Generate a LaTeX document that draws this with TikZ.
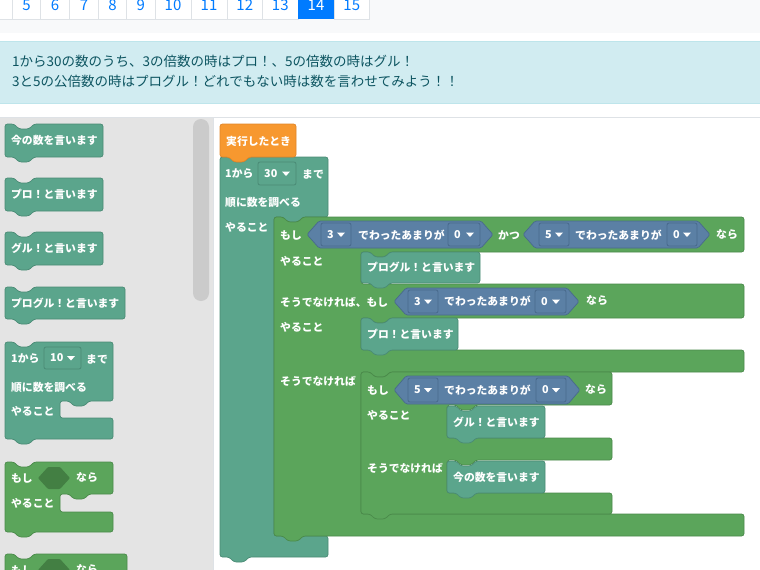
\documentclass[tikz,border=0pt]{standalone}
\usepackage{fontspec}
\newfontfamily\jp{Noto Sans CJK JP}
\definecolor{tealc}{HTML}{5BA58C}
\definecolor{tealdk}{HTML}{4A8B75}
\definecolor{greenc}{HTML}{5BA55B}
\definecolor{greendk}{HTML}{4A8A4A}
\definecolor{bluec}{HTML}{5B80A5}
\definecolor{bluedk}{HTML}{486A8C}
\definecolor{orangec}{HTML}{F7982F}
\definecolor{orangedk}{HTML}{E0862A}
\definecolor{darkhex}{HTML}{437F43}
\definecolor{flybg}{HTML}{E4E4E4}
\definecolor{scrollc}{HTML}{CBCBCB}
\definecolor{bandc}{HTML}{F8F9FA}
\definecolor{cellbd}{HTML}{DEE2E6}
\definecolor{linkc}{HTML}{007BFF}
\definecolor{alertbg}{HTML}{D1ECF1}
\definecolor{alertbd}{HTML}{BEE5EB}
\definecolor{alerttx}{HTML}{0C5460}
\tikzset{
  bt/.style={font=\jp\bfseries\fontsize{10.8pt}{13pt}\selectfont, text=white, inner sep=0pt, anchor=west},
  alerttxt/.style={font=\jp\fontsize{13.5pt}{16pt}\selectfont, text=alerttx, inner sep=0pt, anchor=west},
  pgtxt/.style={font=\jp\fontsize{15pt}{18pt}\selectfont, text=linkc, inner sep=0pt, anchor=base},
  tealblk/.style={fill=tealc, draw=tealdk, line width=0.7pt, rounded corners=2.5pt},
  greenblk/.style={fill=greenc, draw=greendk, line width=0.7pt, rounded corners=2.5pt},
  orangeblk/.style={fill=orangec, draw=orangedk, line width=0.7pt, rounded corners=2.5pt},
  blueblk/.style={fill=bluec, draw=bluedk, line width=0.7pt, rounded corners=1.5pt},
  hexdark/.style={fill=darkhex, rounded corners=1pt},
  tealdd/.style={fill=tealc, draw=tealdk, line width=0.8pt, rounded corners=2pt},
  bluedd/.style={fill=bluec, draw=bluedk, line width=0.8pt, rounded corners=2pt},
}
% statement block: x, y, w, h, name, text
\newcommand\stmtblk[6]{%
  \path[tealblk] (#1,#2) -- ++(9,0) -- ++(5,5) -- ++(10,0) -- ++(5,-5) -- (#1+#3,#2) -- (#1+#3,#2+#4) -- (#1+29,#2+#4) -- ++(-5,5) -- ++(-10,0) -- ++(-5,-5) -- (#1,#2+#4) -- cycle;
  \node[bt] (#5) at (#1+6,{#2+#4/2}) {#6};}
% dropdown field: style, x1, x2, y1, y2, name, label
\newcommand\ddf[7]{%
  \path[#1] (#2,#4) rectangle (#3,#5);
  \node[bt] (#6) at (#2+6,{(#4+#5)/2}) {#7};
  \fill[white] (#3-14,{(#4+#5)/2-2}) -- ++(8,0) -- ++(-4,4.5) -- cycle;}
% hexagon: style, xl, xr, yt, yb, slope
\newcommand\hexb[6]{%
  \path[#1] (#2,{(#4+#5)/2}) -- (#2+#6,#4) -- (#3-#6,#4) -- (#3,{(#4+#5)/2}) -- (#3-#6,#5) -- (#2+#6,#5) -- cycle;}
\begin{document}
\begin{tikzpicture}[x=1pt,y=-1pt]
\useasboundingbox (0,0) rectangle (760,570);
\fill[white] (0,0) rectangle (760,570);
% ---------- pagination ----------
\fill[bandc] (0,0) rectangle (760,33);
\foreach \a/\b/\t/\c in {-20/12.5/4/-4.5,12.5/40.5/5/26.5,40.5/69.5/6/55,69.5/98.5/7/84,98.5/126.5/8/112.5,126.5/155/9/140.75,155/191/10/173,191/227/11/209,227/262.5/12/244.75,262.5/298/13/280.25,334/369.5/15/351.75} {
  \path[draw=cellbd, fill=white, line width=0.8pt] (\a,-10) rectangle (\b,19);
  \node[pgtxt] (pg\t) at (\c,10) {\t};
}
\path[fill=linkc] (298,-10) rectangle (334,19);
\node[pgtxt, text=white] (pg14) at (316,10) {14};
% ---------- alert ----------
\path[fill=alertbg, draw=alertbd, line width=0.8pt] (-2,41) rectangle (762,103);
\node[alerttxt] (al1) at (12,61.5) {1から30の数のうち、3の倍数の時はプロ！、5の倍数の時はグル！};
\node[alerttxt] (al2) at (12,81.5) {3と5の公倍数の時はプログル！どれでもない時は数を言わせてみよう！！};
\draw[cellbd, line width=0.8pt] (0,117.5) -- (760,117.5);
% ---------- flyout ----------
\fill[flybg] (0,118) rectangle (213,570);
\draw[cellbd, line width=0.8pt] (213.5,118) -- (213.5,570);
\fill[scrollc, rounded corners=8pt] (193,119) rectangle (209,301);
\stmtblk{5}{124}{98}{33}{f1}{今の数を言います}
\stmtblk{5}{178}{98}{33}{f2}{プロ！と言います}
\stmtblk{5}{232}{98}{33}{f3}{グル！と言います}
\stmtblk{5}{287}{120}{32}{f4}{プログル！と言います}
% flyout loop
\path[tealblk] (5,342) -- ++(9,0) -- ++(5,5) -- ++(10,0) -- ++(5,-5) -- (113,342) -- (113,401) -- (89,401) -- ++(-5,5) -- ++(-10,0) -- ++(-5,-5) -- (60,401) -- (60,418) -- (113,418) -- (113,439) -- (34,439) -- ++(-5,5) -- ++(-10,0) -- ++(-5,-5) -- (5,439) -- cycle;
\node[bt] (fl1) at (11,359) {1から};
\ddf{tealdd}{44}{81}{347}{369}{fld}{10}
\node[bt] (fl2) at (86,359) {まで};
\node[bt] (fl3) at (11,387) {順に数を調べる};
\node[bt] (fl4) at (11,411) {やること};
% flyout if
\path[greenblk] (5,462) -- ++(9,0) -- ++(5,5) -- ++(10,0) -- ++(5,-5) -- (113,462) -- (113,494) -- (89,494) -- ++(-5,5) -- ++(-10,0) -- ++(-5,-5) -- (60,494) -- (60,512) -- (113,512) -- (113,532) -- (34,532) -- ++(-5,5) -- ++(-10,0) -- ++(-5,-5) -- (5,532) -- cycle;
\node[bt] (fi1) at (11,478) {もし};
\hexb{hexdark}{38}{70}{467}{489}{10}
\node[bt] (fi2) at (76,478) {なら};
\node[bt] (fi3) at (11,503) {やること};
% flyout if-else (cut)
\path[greenblk] (5,554) -- ++(9,0) -- ++(5,5) -- ++(10,0) -- ++(5,-5) -- (127,554) -- (127,600) -- (5,600) -- cycle;
\hexb{hexdark}{38}{70}{559}{581}{10}
\node[bt] (fe1) at (11,570) {もし};
\node[bt] (fe2) at (76,570) {なら};
% ---------- workspace ----------
% loop
\path[tealblk] (220,157) -- ++(9,0) -- ++(5,5) -- ++(10,0) -- ++(5,-5) -- (328,157) -- (328,217) -- (303,217) -- ++(-5,5) -- ++(-10,0) -- ++(-5,-5) -- (274,217) -- (274,536) -- (328,536) -- (328,557) -- (249,557) -- ++(-5,5) -- ++(-10,0) -- ++(-5,-5) -- (220,557) -- cycle;
% hat
\path[orangeblk] (220,124) -- (296,124) -- (296,157) -- (249,157) -- ++(-5,5) -- ++(-10,0) -- ++(-5,-5) -- (220,157) -- cycle;
\node[bt] (hat) at (226,141) {実行したとき};
\node[bt] (w1) at (225,174) {1から};
\ddf{tealdd}{258}{296}{162}{185}{d30}{30}
\node[bt] (w2) at (302,174) {まで};
\node[bt] (w3) at (225,202) {順に数を調べる};
\node[bt] (w4) at (225,227) {やること};
% outer if
\path[greenblk] (274,217) -- ++(9,0) -- ++(5,5) -- ++(10,0) -- ++(5,-5) -- (744,217) -- (744,252) -- (390,252) -- ++(-5,5) -- ++(-10,0) -- ++(-5,-5) -- (361,252) -- (361,284) -- (744,284) -- (744,318) -- (390,318) -- ++(-5,5) -- ++(-10,0) -- ++(-5,-5) -- (361,318) -- (361,350) -- (744,350) -- (744,372) -- (390,372) -- ++(-5,5) -- ++(-10,0) -- ++(-5,-5) -- (361,372) -- (361,514) -- (744,514) -- (744,536) -- (303,536) -- ++(-5,5) -- ++(-10,0) -- ++(-5,-5) -- (274,536) -- cycle;
\node[bt] (i1) at (280,235) {もし};
\hexb{blueblk}{307}{493}{221}{248}{12}
\ddf{bluedd}{321}{351}{223}{246}{d3a}{3}
\node[bt] (i2) at (358,235) {でわったあまりが};
\ddf{bluedd}{448}{480}{223}{246}{d0a}{0}
\node[bt] (i3) at (498,235) {かつ};
\hexb{blueblk}{523}{710}{221}{248}{12}
\ddf{bluedd}{539}{569}{223}{246}{d5a}{5}
\node[bt] (i4) at (575,235) {でわったあまりが};
\ddf{bluedd}{667}{697}{223}{246}{d0b}{0}
\node[bt] (i5) at (716,235) {なら};
\node[bt] (i6) at (280,261) {やること};
\stmtblk{361}{252}{119}{31}{s1}{プログル！と言います}
\node[bt] (i7) at (280,302) {そうでなければ、もし};
\hexb{blueblk}{394}{579}{288}{315}{12}
\ddf{bluedd}{408}{438}{290}{313}{d3b}{3}
\node[bt] (i8) at (444,301) {でわったあまりが};
\ddf{bluedd}{535}{566}{290}{313}{d0c}{0}
\node[bt] (i9) at (586,301) {なら};
\node[bt] (i10) at (280,327) {やること};
\stmtblk{361}{318}{97}{32}{s2}{プロ！と言います}
\node[bt] (i11) at (280,381) {そうでなければ};
% nested if
\path[greenblk] (361,372) -- ++(9,0) -- ++(5,5) -- ++(10,0) -- ++(5,-5) -- (612,372) -- (612,405) -- (476,405) -- ++(-5,5) -- ++(-10,0) -- ++(-5,-5) -- (447,405) -- (447,438) -- (612,438) -- (612,460) -- (476,460) -- ++(-5,5) -- ++(-10,0) -- ++(-5,-5) -- (447,460) -- (447,493) -- (612,493) -- (612,514) -- (390,514) -- ++(-5,5) -- ++(-10,0) -- ++(-5,-5) -- (361,514) -- cycle;
\node[bt] (n1) at (367,390) {もし};
\hexb{blueblk}{394}{580}{376}{404}{12}
\ddf{bluedd}{408}{438}{378}{402}{d5b}{5}
\node[bt] (n2) at (444,390) {でわったあまりが};
\ddf{bluedd}{536}{566}{378}{402}{d0d}{0}
\node[bt] (n3) at (585,390) {なら};
\node[bt] (n4) at (367,415) {やること};
\stmtblk{447}{406}{98}{32}{s3}{グル！と言います}
\node[bt] (n5) at (367,468) {そうでなければ};
\stmtblk{447}{461}{98}{32}{s4}{今の数を言います}
\end{tikzpicture}
\end{document}
